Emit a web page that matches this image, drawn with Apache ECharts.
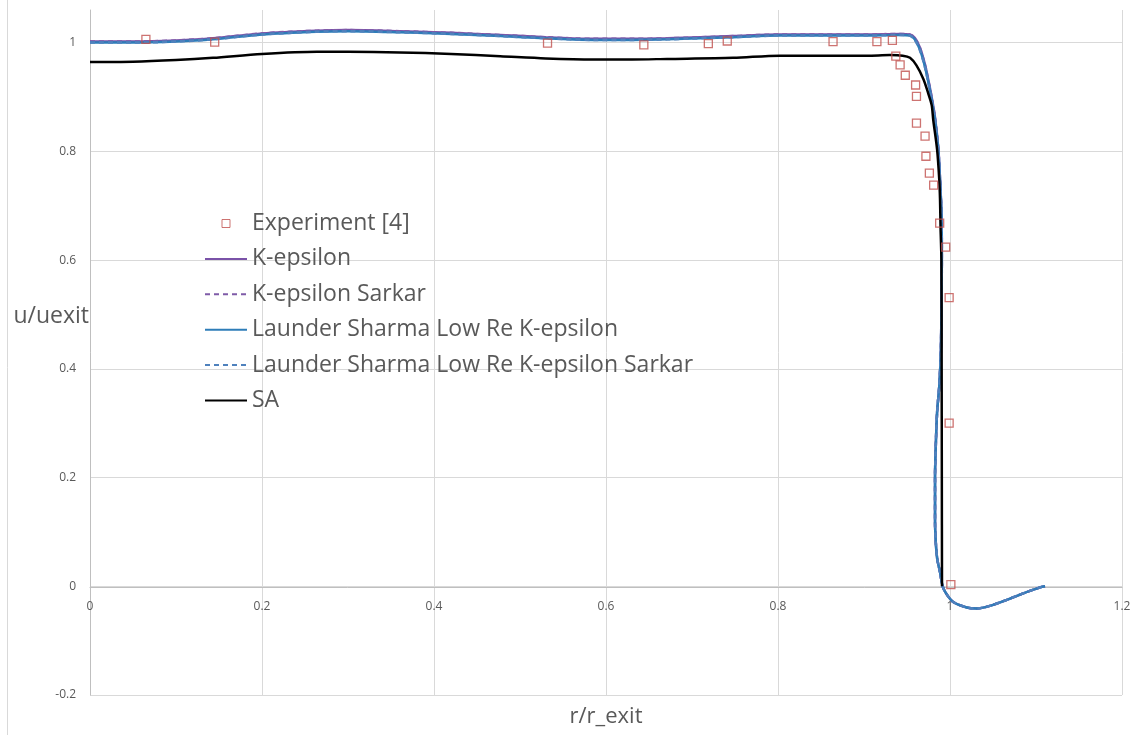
<!DOCTYPE html>
<html>
<head>
<meta charset="utf-8">
<title>u/uexit vs r/r_exit</title>
<script src="https://cdn.jsdelivr.net/npm/echarts@6/dist/echarts.min.js"></script>
<style>
  html, body { margin: 0; padding: 0; background: #ffffff; }
  #chart { width: 1138px; height: 735px; }
</style>
</head>
<body>
<div id="chart"></div>
<script>
// Axis ticks
const xTicks = { min: 0, max: 1.2, step: 0.2 };
const yTicks = { min: -0.2, max: 1.06, step: 0.2 };

// Axis titles
const xTitle = 'r/r_exit';
const yTitle = 'u/uexit';

// Series names
const seriesNames = [
  'Experiment [4]',
  'K-epsilon',
  'K-epsilon Sarkar',
  'Launder Sharma Low Re K-epsilon',
  'Launder Sharma Low Re K-epsilon Sarkar',
  'SA'
];

// Measured velocity profile [r/r_exit, u/uexit]
const experiment = [
  [0.065, 1.006], [0.145, 1.001], [0.532, 0.999], [0.644, 0.996], [0.719, 0.998],
  [0.741, 1.003], [0.864, 1.002], [0.915, 1.002], [0.933, 1.004], [0.937, 0.975],
  [0.942, 0.959], [0.948, 0.940], [0.960, 0.922], [0.961, 0.901], [0.961, 0.852],
  [0.971, 0.828], [0.972, 0.791], [0.976, 0.760], [0.981, 0.738], [0.988, 0.668],
  [0.995, 0.624], [0.999, 0.531], [0.999, 0.300], [1.001, 0.003]
];

// Computed profiles [r/r_exit, u/uexit]
const kEpsilon = [
  [0, 1.002], [0.05, 1.002], [0.10, 1.004], [0.143, 1.008], [0.20, 1.017], [0.264, 1.022],
  [0.30, 1.023], [0.36, 1.021], [0.42, 1.018], [0.477, 1.014], [0.53, 1.010], [0.585, 1.007],
  [0.63, 1.007], [0.671, 1.008], [0.748, 1.012], [0.802, 1.015], [0.85, 1.015], [0.903, 1.015],
  [0.942, 1.016], [0.953, 1.015], [0.959, 1.009], [0.965, 0.991], [0.971, 0.959], [0.976, 0.922],
  [0.979, 0.897], [0.9826, 0.862], [0.9864, 0.806], [0.9884, 0.750], [0.9895, 0.712],
  [0.9903, 0.675], [0.9905, 0.60], [0.9900, 0.50], [0.9893, 0.43], [0.9875, 0.368],
  [0.9850, 0.32], [0.9835, 0.26], [0.9826, 0.20], [0.9826, 0.12], [0.9835, 0.08],
  [0.9852, 0.05], [0.9884, 0.026], [0.9915, 0.0], [0.9962, -0.015], [1.0038, -0.029],
  [1.0194, -0.039], [1.031, -0.041], [1.0465, -0.036], [1.066, -0.025], [1.0852, -0.013],
  [1.1047, -0.002], [1.1105, 0]
];
const kEpsilonSarkar = [
  [0, 1.002], [0.05, 1.002], [0.10, 1.004], [0.143, 1.008], [0.20, 1.017], [0.264, 1.022],
  [0.30, 1.023], [0.36, 1.021], [0.42, 1.018], [0.477, 1.014], [0.53, 1.010], [0.585, 1.007],
  [0.63, 1.007], [0.671, 1.008], [0.748, 1.012], [0.802, 1.015], [0.85, 1.015], [0.903, 1.015],
  [0.942, 1.016], [0.953, 1.015], [0.959, 1.008], [0.965, 0.990], [0.971, 0.958], [0.976, 0.921],
  [0.979, 0.896], [0.9826, 0.861], [0.9864, 0.805], [0.9884, 0.749], [0.9895, 0.711],
  [0.9903, 0.675], [0.9905, 0.60], [0.9900, 0.50], [0.9893, 0.43], [0.9875, 0.368],
  [0.9850, 0.32], [0.9835, 0.26], [0.9826, 0.20], [0.9826, 0.12], [0.9835, 0.08],
  [0.9852, 0.05], [0.9884, 0.026], [0.9915, 0.0], [0.9962, -0.015], [1.0038, -0.029],
  [1.0194, -0.039], [1.031, -0.041], [1.0465, -0.036], [1.066, -0.025], [1.0852, -0.013],
  [1.1047, -0.002], [1.1105, 0]
];
const launderSharma = [
  [0, 1.000], [0.05, 1.000], [0.10, 1.002], [0.143, 1.006], [0.20, 1.015], [0.264, 1.020],
  [0.30, 1.021], [0.36, 1.019], [0.42, 1.016], [0.477, 1.012], [0.53, 1.008], [0.585, 1.005],
  [0.63, 1.005], [0.671, 1.006], [0.748, 1.010], [0.802, 1.013], [0.85, 1.013], [0.903, 1.013],
  [0.942, 1.014], [0.953, 1.013], [0.959, 1.006], [0.965, 0.987], [0.971, 0.955], [0.976, 0.918],
  [0.979, 0.893], [0.9826, 0.858], [0.9864, 0.803], [0.9884, 0.748], [0.9895, 0.711],
  [0.9903, 0.675], [0.9905, 0.60], [0.9900, 0.50], [0.9893, 0.43], [0.9875, 0.368],
  [0.9850, 0.32], [0.9835, 0.26], [0.9826, 0.20], [0.9826, 0.12], [0.9835, 0.08],
  [0.9852, 0.05], [0.9884, 0.026], [0.9915, 0.0], [0.9962, -0.015], [1.0038, -0.029],
  [1.0194, -0.039], [1.031, -0.041], [1.0465, -0.036], [1.066, -0.025], [1.0852, -0.013],
  [1.1047, -0.002], [1.1105, 0]
];
const launderSharmaSarkar = [
  [0, 1.000], [0.05, 1.000], [0.10, 1.002], [0.143, 1.006], [0.20, 1.015], [0.264, 1.020],
  [0.30, 1.021], [0.36, 1.019], [0.42, 1.016], [0.477, 1.012], [0.53, 1.008], [0.585, 1.005],
  [0.63, 1.005], [0.671, 1.006], [0.748, 1.010], [0.802, 1.013], [0.85, 1.013], [0.903, 1.013],
  [0.942, 1.014], [0.953, 1.013], [0.959, 1.005], [0.965, 0.986], [0.971, 0.954], [0.976, 0.917],
  [0.979, 0.892], [0.9826, 0.857], [0.9864, 0.802], [0.9884, 0.747], [0.9895, 0.710],
  [0.9903, 0.675], [0.9905, 0.60], [0.9900, 0.50], [0.9893, 0.43], [0.9875, 0.368],
  [0.9850, 0.32], [0.9835, 0.26], [0.9826, 0.20], [0.9826, 0.12], [0.9835, 0.08],
  [0.9852, 0.05], [0.9884, 0.026], [0.9915, 0.0], [0.9962, -0.015], [1.0038, -0.029],
  [1.0194, -0.039], [1.031, -0.041], [1.0465, -0.036], [1.066, -0.025], [1.0852, -0.013],
  [1.1047, -0.002], [1.1105, 0]
];
const spalartAllmaras = [
  [0, 0.9645], [0.05, 0.965], [0.10, 0.968], [0.143, 0.972], [0.20, 0.979], [0.264, 0.983],
  [0.30, 0.983], [0.36, 0.982], [0.42, 0.979], [0.477, 0.975], [0.53, 0.971], [0.585, 0.969],
  [0.63, 0.969], [0.671, 0.970], [0.748, 0.972], [0.802, 0.976], [0.85, 0.976], [0.9035, 0.976],
  [0.93, 0.977], [0.945, 0.976], [0.9535, 0.972], [0.961, 0.958], [0.969, 0.933], [0.975, 0.905],
  [0.9787, 0.885], [0.9805, 0.858], [0.985, 0.803], [0.9875, 0.748], [0.9884, 0.711],
  [0.989, 0.66], [0.990, 0.60], [0.9903, 0.40], [0.9905, 0.20], [0.9907, 0.0]
];

const colors = {
  experiment: '#C0504D',
  kEps: '#7A52A8',
  kEpsSarkar: '#7F5BA8',
  ls: '#2E7DB8',
  lsSarkar: '#4F81BD',
  sa: '#000000'
};

const textFont = '"Open Sans", "Noto Sans", sans-serif';
const tickFont = { fontFamily: textFont, fontSize: 12, color: '#595959' };

function modelLine(name, data, color, dashed) {
  return {
    name: name,
    type: 'line',
    data: data,
    symbol: 'none',
    smooth: 0.3,
    z: 2,
    lineStyle: { color: color, width: 2.5, type: dashed ? [5, 4] : 'solid' },
    itemStyle: { color: color }
  };
}

const chart = echarts.init(document.getElementById('chart'), null, { renderer: 'canvas' });

chart.setOption({
  animation: false,
  backgroundColor: '#ffffff',
  grid: { left: 90, right: 16, top: 10, bottom: 40, containLabel: false, outerBoundsMode: 'none' },
  legend: {
    orient: 'vertical',
    left: 199,
    top: 207,
    itemWidth: 42,
    itemHeight: 8,
    itemGap: 12.4,
    textStyle: { fontFamily: textFont, fontSize: 23, color: '#595959', lineHeight: 23 },
    // the line icons carry no marker dot
    itemStyle: { color: 'rgba(0,0,0,0)', borderWidth: 0 },
    data: [
      {
        name: seriesNames[0],
        icon: 'path://M0,0H10V10H0Z',
        symbolKeepAspect: true,
        itemStyle: { color: '#ffffff', borderColor: colors.experiment, borderWidth: 1 }
      },
      seriesNames[1], seriesNames[2], seriesNames[3], seriesNames[4], seriesNames[5]
    ]
  },
  xAxis: [
    {
      // axis drawn through u = 0, carrying the tick labels
      type: 'value',
      min: xTicks.min,
      max: xTicks.max,
      interval: xTicks.step,
      position: 'bottom',
      offset: -108,
      axisLine: { onZero: false, lineStyle: { color: '#bfbfbf', width: 1 } },
      axisTick: { show: false },
      axisLabel: Object.assign({ margin: 14 }, tickFont),
      splitLine: { show: false }
    },
    {
      // frame axis along the bottom edge, carrying the gridlines and the title
      type: 'value',
      min: xTicks.min,
      max: xTicks.max,
      interval: xTicks.step,
      position: 'bottom',
      name: xTitle,
      nameLocation: 'middle',
      nameGap: 11,
      nameMoveOverlap: false,
      nameTextStyle: { fontFamily: textFont, fontSize: 22, color: '#595959' },
      axisLine: { show: false, onZero: false },
      axisTick: { show: false },
      axisLabel: { show: false },
      splitLine: { show: true, lineStyle: { color: '#d9d9d9', width: 1 } }
    }
  ],
  yAxis: {
    type: 'value',
    min: yTicks.min,
    max: yTicks.max,
    interval: yTicks.step,
    axisLine: { show: true, onZero: false, lineStyle: { color: '#bfbfbf', width: 1 } },
    axisTick: { show: false },
    axisLabel: Object.assign({ margin: 14, showMaxLabel: false }, tickFont),
    splitLine: { show: true, showMaxLine: false, lineStyle: { color: '#d9d9d9', width: 1 } }
  },
  graphic: [
    { type: 'line', shape: { x1: 7.5, y1: 0, x2: 7.5, y2: 735 }, style: { stroke: '#d9d9d9', lineWidth: 1 }, silent: true },
    {
      // y-axis title, level with the upper half of the plot
      type: 'text',
      right: 1138 - 89,
      top: 305,
      z: 10,
      style: { text: yTitle, fontFamily: textFont, fontSize: 23, fill: '#595959' },
      silent: true
    }
  ],
  series: [
    {
      name: seriesNames[0],
      type: 'scatter',
      data: experiment,
      symbol: 'rect',
      symbolSize: 8,
      z: 5,
      itemStyle: { color: 'rgba(255,255,255,0)', borderColor: colors.experiment, borderWidth: 1.3 }
    },
    modelLine(seriesNames[1], kEpsilon, colors.kEps, false),
    modelLine(seriesNames[2], kEpsilonSarkar, colors.kEpsSarkar, true),
    modelLine(seriesNames[3], launderSharma, colors.ls, false),
    modelLine(seriesNames[4], launderSharmaSarkar, colors.lsSarkar, true),
    {
      name: seriesNames[5],
      type: 'line',
      data: spalartAllmaras,
      symbol: 'none',
      smooth: 0.3,
      z: 3,
      lineStyle: { color: colors.sa, width: 2.5 },
      itemStyle: { color: colors.sa }
    }
  ]
});
</script>
</body>
</html>
